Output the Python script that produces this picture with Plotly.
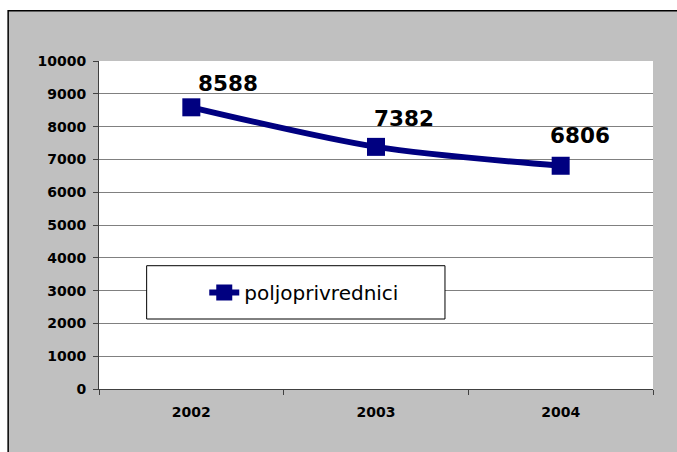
import plotly.graph_objects as go

# --- data ---
years = ["2002", "2003", "2004"]
farmers = [8588, 7382, 6806]
series_name = "poljoprivrednici"

FONT = "DejaVu Sans"
NAVY = "#000080"
GREY = "#c0c0c0"

fig = go.Figure()

fig.add_trace(go.Scatter(
    x=years,
    y=farmers,
    mode="lines+markers",
    name=series_name,
    line=dict(color=NAVY, width=6, shape="spline", smoothing=0.8),
    marker=dict(symbol="square", size=18, color=NAVY),
))

# data labels (Excel put them a bit to the right of each point)
label_dx = [37, 28, 19]
label_dy = [24, 28, 30]
for i, (val, dx, dy) in enumerate(zip(farmers, label_dx, label_dy)):
    fig.add_annotation(
        x=i, y=val, text=str(val), showarrow=False,
        xanchor="center", yanchor="middle", xshift=dx, yshift=dy,
        font=dict(family=FONT, size=21.5, color="black", weight="bold"),
    )

# white strips left/top of the chart frame, then the frame lines
fig.add_shape(type="rect", xref="paper", yref="paper",
              x0=-0.3, x1=-0.164, y0=-0.3, y1=1.3,
              fillcolor="white", line=dict(width=0), layer="below")
fig.add_shape(type="rect", xref="paper", yref="paper",
              x0=-0.3, x1=1.3, y0=1.153, y1=1.3,
              fillcolor="white", line=dict(width=0), layer="below")
fig.add_shape(type="rect", xref="paper", yref="paper",
              x0=-0.164, x1=1.3, y0=-0.3, y1=1.153,
              fillcolor="rgba(0,0,0,0)", line=dict(color="black", width=1.5),
              layer="below")
# white plot area
fig.add_shape(type="rect", xref="paper", yref="paper",
              x0=0, x1=1, y0=0, y1=1,
              fillcolor="white", line=dict(width=0), layer="below")

# legend box
fig.add_shape(type="rect", xref="paper", yref="paper",
              x0=0.086, x1=0.6245, y0=0.2134, y1=0.3759,
              fillcolor="white", line=dict(color="black", width=1),
              layer="above")

fig.update_layout(
    width=677, height=452,
    margin=dict(l=99, r=24, t=61, b=63),
    paper_bgcolor=GREY,
    plot_bgcolor="rgba(0,0,0,0)",
    font=dict(family=FONT, color="black"),
    showlegend=True,
    legend=dict(x=0.19, y=0.2945, xanchor="left", yanchor="middle",
                bgcolor="rgba(0,0,0,0)", borderwidth=0,
                font=dict(family=FONT, size=20, color="black")),
    xaxis=dict(
        type="category", tickson="boundaries", range=[-0.5, 2.5],
        ticks="outside", ticklen=5, tickcolor="#404040",
        showline=True, linecolor="#404040", linewidth=1,
        showgrid=False, tickangle=0, ticklabelstandoff=10,
        tickfont=dict(family=FONT, size=14, weight="bold"),
    ),
    yaxis=dict(
        range=[0, 10000], dtick=1000, tickformat="d",
        ticks="outside", ticklen=5, tickcolor="#404040",
        showline=True, linecolor="#404040", linewidth=1,
        gridcolor="#808080", gridwidth=1, zeroline=False,
        ticklabelstandoff=4,
        tickfont=dict(family=FONT, size=14, weight="bold"),
    ),
)

# drop the browser's default 8px body margin so the figure fills the window
fig.write_html("out.html",
               config={"displayModeBar": False},
               post_script="document.body.style.margin='0';"
                           "document.body.style.overflow='hidden';")
